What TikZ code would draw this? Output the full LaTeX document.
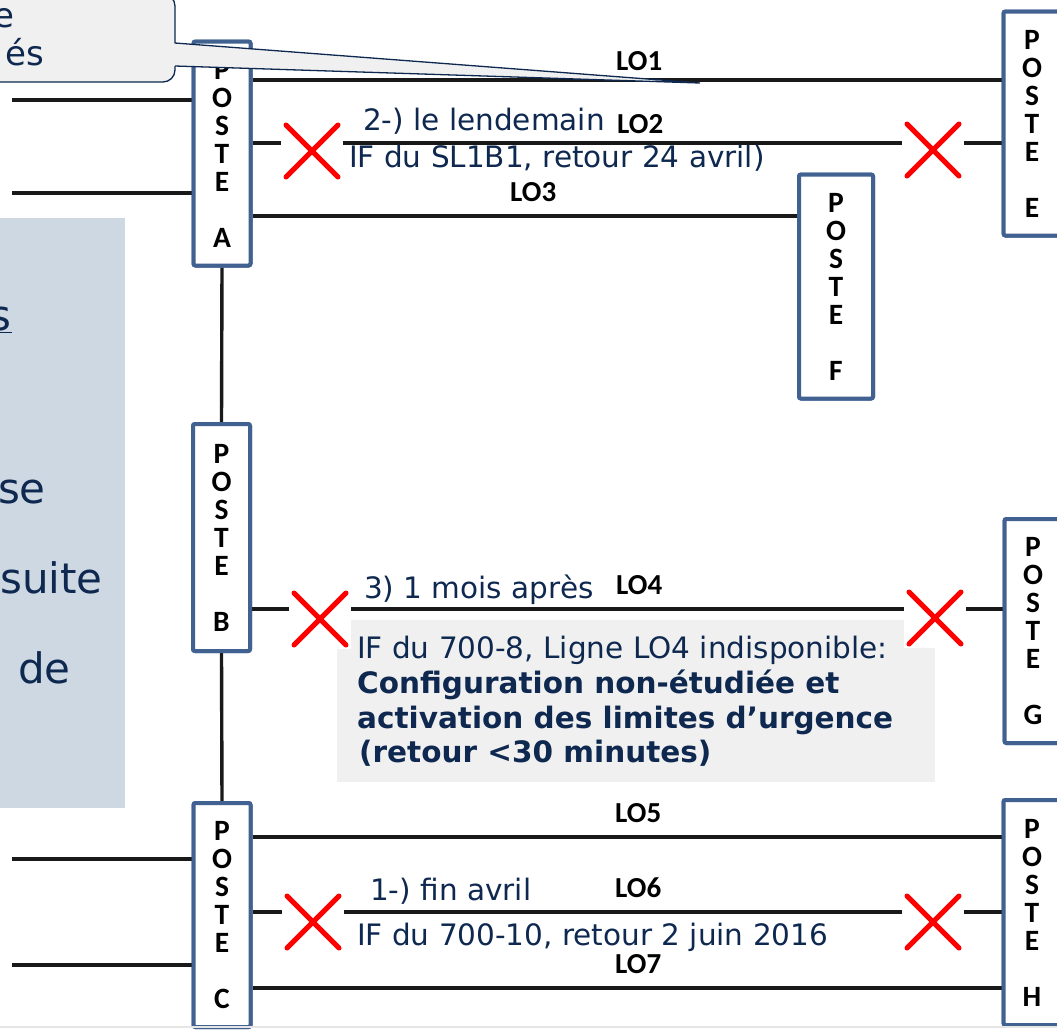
\documentclass[tikz,border=0pt]{standalone}
\usepackage{fontspec}
\setmainfont{DejaVu Sans}
\newfontfamily\calfont{Carlito}
\definecolor{navy}{RGB}{14,40,80}
\definecolor{panelblue}{RGB}{205,216,226}
\definecolor{boxgray}{RGB}{240,240,240}
\definecolor{posteblue}{RGB}{65,98,145}
\definecolor{xred}{RGB}{255,0,0}
\definecolor{linek}{RGB}{25,25,25}
\begin{document}
\begin{tikzpicture}[x=1pt,y=-1pt,
  poste/.style={draw=posteblue, line width=4pt, fill=white, rounded corners=2pt,
    minimum width=57pt, minimum height=224pt, inner sep=0pt, align=center,
    font=\calfont\bfseries\fontsize{29.5}{28}\selectfont},
  wire/.style={draw=linek, line width=3.4pt},
  lolabel/.style={anchor=base west, inner sep=0pt, font=\calfont\bfseries\fontsize{29}{30}\selectfont},
  note/.style={anchor=base west, inner sep=0pt, text=navy, font=\fontsize{29.5}{35}\selectfont},
  notebold/.style={note, font=\bfseries\fontsize{29.5}{35}\selectfont},
  big/.style={anchor=base east, inner sep=0pt, text=navy, font=\fontsize{42}{50}\selectfont},
  callouttext/.style={anchor=base east, inner sep=0pt, text=navy, font=\fontsize{34}{40}\selectfont},
  xmark/.style={fill=white, inner sep=0pt, minimum width=62pt, minimum height=60pt,
    path picture={
      \draw[xred, line width=5pt, line cap=round]
        ([shift={(5pt,4pt)}]path picture bounding box.south west) --
        ([shift={(-5pt,-4pt)}]path picture bounding box.north east);
      \draw[xred, line width=5pt, line cap=round]
        ([shift={(5pt,-4pt)}]path picture bounding box.north west) --
        ([shift={(-5pt,4pt)}]path picture bounding box.south east);}}
]
\useasboundingbox (0,0) rectangle (1057,1029);

% left panel
\fill[panelblue] (0,218) rectangle (125,808);
\node[big] (p1) at (12,330) {\underline{s}};
\node[big] (p2) at (46,503) {se};
\node[big] (p3) at (103,593) {suite};
\node[big] (p4) at (71,683) {de};

% postes (placed first so connectors can refer to them)
\node[poste] (A) at (222,153.5) {P\\O\\S\\T\\E\\[28pt]A};
\node[poste, minimum height=227pt] (B) at (221.5,537.5) {P\\O\\S\\T\\E\\[28pt]B};
\node[poste] (C) at (222,915) {P\\O\\S\\T\\E\\[28pt]C};
\node[poste] (E) at (1032,123.5) {P\\O\\S\\T\\E\\[28pt]E};
\node[poste, minimum width=74pt] (F) at (836,286.5) {P\\O\\S\\T\\E\\[28pt]F};
\node[poste] (G) at (1033,631) {P\\O\\S\\T\\E\\[28pt]G};
\node[poste, minimum height=225pt] (H) at (1032,912.5) {P\\O\\S\\T\\E\\[28pt]H};

% y levels
\coordinate (y1) at (0,80);
\coordinate (y2) at (0,143);
\coordinate (y3) at (0,216);
\coordinate (y4) at (0,609);
\coordinate (y5) at (0,837);
\coordinate (y6) at (0,912);
\coordinate (y7) at (0,988);
\coordinate (la1) at (12,100);
\coordinate (la2) at (12,193);
\coordinate (lc1) at (12,859);
\coordinate (lc2) at (12,965);

\draw[wire] (la1) -- (A.west |- la1);
\draw[wire] (la2) -- (A.west |- la2);
\draw[wire] (lc1) -- (C.west |- lc1);
\draw[wire] (lc2) -- (C.west |- lc2);
\draw[wire] (A.east |- y1) -- (E.west |- y1);
\draw[wire] (A.east |- y2) -- (E.west |- y2);
\draw[wire] (A.east |- y3) -- (F.west |- y3);
\draw[wire] (B.east |- y4) -- (G.west |- y4);
\draw[wire] (C.east |- y5) -- (H.west |- y5);
\draw[wire] (C.east |- y6) -- (H.west |- y6);
\draw[wire] (C.east |- y7) -- (H.west |- y7);
\draw[wire] (A.south) -- (B.north);
\draw[wire] (B.south) -- (C.north);

% redraw postes on top of wires
\node[poste] at (A) {P\\O\\S\\T\\E\\[28pt]A};
\node[poste, minimum height=227pt] at (B) {P\\O\\S\\T\\E\\[28pt]B};
\node[poste] at (C) {P\\O\\S\\T\\E\\[28pt]C};
\node[poste] at (E) {P\\O\\S\\T\\E\\[28pt]E};
\node[poste, minimum width=74pt] at (F) {P\\O\\S\\T\\E\\[28pt]F};
\node[poste] at (G) {P\\O\\S\\T\\E\\[28pt]G};
\node[poste, minimum height=225pt] at (H) {P\\O\\S\\T\\E\\[28pt]H};

% LO4 info box
\fill[boxgray] (337,620) rectangle (935,782);

% X marks
\node[xmark] (xa) at (312,151) {};
\node[xmark] (xe) at (933,150) {};
\node[xmark] (xb) at (320,619) {};
\node[xmark] (xg) at (935,618) {};
\node[xmark] (xc) at (313,922) {};
\node[xmark] (xh) at (933,922) {};

% line labels
\node[lolabel] (lo1) at (616,70) {LO1};
\node[lolabel] (lo2) at (617,133) {LO2};
\node[lolabel] (lo3) at (510,201) {LO3};
\node[lolabel] (lo4) at (616,594) {LO4};
\node[lolabel] (lo5) at (615,822) {LO5};
\node[lolabel] (lo6) at (615,897) {LO6};
\node[lolabel] (lo7) at (615,973) {LO7};

% notes
\node[note] (n2a) at (363,130) {2-) le lendemain};
\node[note] (n2b) at (349,167) {IF du SL1B1, retour 24 avril)};
\node[note] (n3a) at (364,598) {3) 1 mois après};
\node[note] (n3b) at (357,658) {IF du 700-8, Ligne LO4 indisponible:};
\node[notebold] (n3c) at (357,693) {Configuration non-étudiée et};
\node[notebold] (n3d) at (357,728) {activation des limites d’urgence};
\node[notebold] (n3e) at (359,762) {(retour <30 minutes)};
\node[note] (n1a) at (370,900) {1-) fin avril};
\node[note] (n1b) at (357,945) {IF du 700-10, retour 2 juin 2016};

% callout
\path[fill=boxgray, draw=navy, line width=1.3pt, rounded corners=12pt] (-30,-6) rectangle (175,82);
\fill[boxgray] (170,43) -- (700,83) -- (170,66) -- cycle;
\draw[navy, line width=1.3pt] (175,43) -- (700,83) -- (175,66);
\node[callouttext] (c1) at (15,27) {e};
\node[callouttext] (c2) at (44,65) {és};

% faint bottom edge
\draw[gray!20, line width=2pt] (0,1027) -- (1057,1027);
\end{tikzpicture}
\end{document}
